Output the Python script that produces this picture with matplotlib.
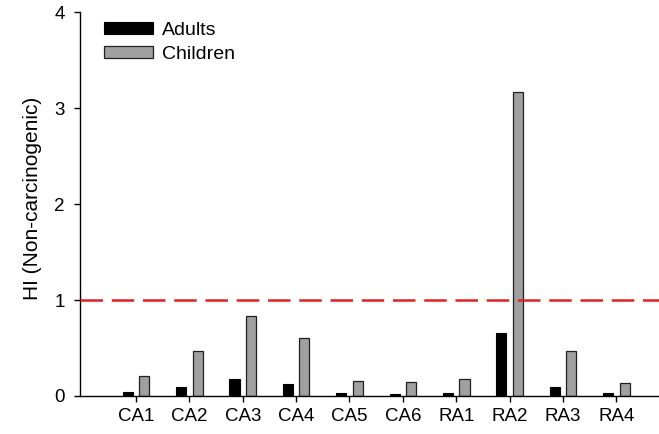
import matplotlib
matplotlib.use('Agg')
import matplotlib.pyplot as plt
import numpy as np

plt.rcParams['font.family'] = ['Liberation Sans', 'DejaVu Sans']

# Hazard index per site
sites = ['CA1', 'CA2', 'CA3', 'CA4', 'CA5', 'CA6', 'RA1', 'RA2', 'RA3', 'RA4']
adults = [0.045, 0.097, 0.174, 0.125, 0.035, 0.025, 0.035, 0.654, 0.097, 0.028]
children = [0.21, 0.466, 0.834, 0.605, 0.16, 0.146, 0.177, 3.167, 0.472, 0.139]
threshold = 1.0

fig = plt.figure(figsize=(6.59, 4.34), dpi=100)
ax = fig.add_axes([0.1214, 0.0876, 0.8786, 0.8836])

x = np.arange(len(sites))
w = 0.19
off = 0.155
ax.bar(x - off, adults, w, color='black', edgecolor='black', linewidth=0.8, label='Adults')
ax.bar(x + off, children, w, color='#a0a0a0', edgecolor='#202020', linewidth=0.9, label='Children')

# guideline at HI = 1
ax.axhline(threshold, color='#e02222', linewidth=1.8, dashes=(9, 3.5), zorder=3)

ax.set_xlim(-1.05, 9.8)
ax.set_ylim(0, 4)
ax.set_yticks([0, 1, 2, 3, 4])
ax.set_xticks(x)
ax.set_xticklabels(sites)
ax.tick_params(axis='both', direction='out', length=4, width=1, labelsize=13.5)
ax.tick_params(axis='x', pad=5)
ax.tick_params(axis='y', pad=7)

for s in ['top', 'right']:
    ax.spines[s].set_visible(False)
ax.spines['left'].set_linewidth(1)
ax.spines['bottom'].set_linewidth(1)

ax.set_ylabel('HI (Non-carcinogenic)', fontsize=15)
ax.yaxis.set_label_coords(-0.066, 0.515)

ax.legend(loc='upper left', bbox_to_anchor=(0.012, 1.02), frameon=False,
          fontsize=14, handlelength=2.5, handleheight=0.57, labelspacing=0.35,
          handletextpad=0.45)

fig.savefig('out.png', dpi=100)
